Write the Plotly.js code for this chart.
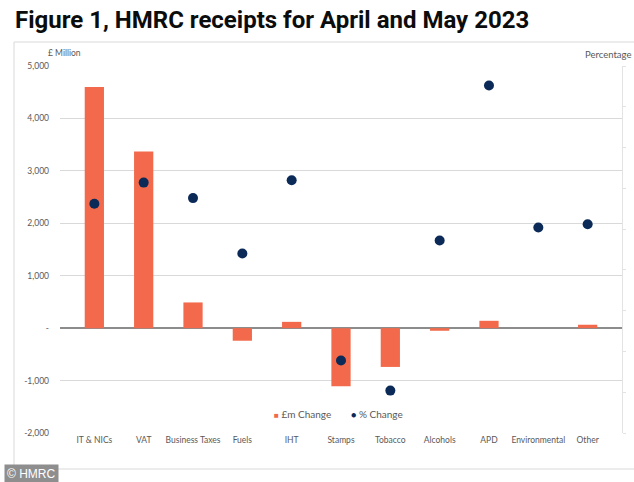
<!DOCTYPE html>
<html>
<head>
<meta charset="utf-8">
<script src="https://cdn.plot.ly/plotly-3.0.1.min.js"></script>
<style>
html,body{margin:0;padding:0;background:#fff;overflow:hidden;}
#chart{width:634px;height:482px;}
</style>
</head>
<body>
<div id="chart"></div>
<script>
// Data
var categories = ["IT & NICs", "VAT", "Business Taxes", "Fuels", "IHT", "Stamps", "Tobacco", "Alcohols", "APD", "Environmental", "Other"];
var changeMillion = [4600, 3370, 490, -240, 120, -1110, -740, -50, 140, 0, 65];
var changePercent = [8.1, 10.7, 8.8, 2.0, 11.0, -11.1, -14.8, 3.6, 22.6, 5.2, 5.6];
var leftTickVals = [-2000, -1000, 0, 1000, 2000, 3000, 4000, 5000];
var leftTickText = ["-2,000", "-1,000", "-", "1,000", "2,000", "3,000", "4,000", "5,000"];
var seriesNames = ["£m Change", "% Change"];

var W = 634, H = 482;
var L = 60, R = 12, T = 66, B = 49;
var pw = W - L - R, ph = H - T - B;
function px(x) { return (x - L) / pw; }
function py(y) { return (H - B - y) / ph; }

var barColor = "#F26A4B", dotColor = "#0B2A57";
var labelFont = {family: "Lato, 'Open Sans', sans-serif", size: 8.5, color: "#595959"};
var legendFont = {family: "Lato, 'Open Sans', sans-serif", size: 10, color: "#595959"};
var frameColor = "#d9d9d9";

var traces = [
  {
    type: "bar",
    name: seriesNames[0],
    x: categories,
    y: changeMillion,
    marker: {color: barColor},
    yaxis: "y",
    showlegend: false
  },
  {
    type: "scatter",
    mode: "markers",
    name: seriesNames[1],
    x: categories,
    y: changePercent,
    marker: {color: dotColor, size: 10},
    yaxis: "y2",
    showlegend: false
  }
];

var layout = {
  width: W, height: H,
  margin: {l: L, r: R, t: T, b: B, pad: 0},
  paper_bgcolor: "#ffffff",
  plot_bgcolor: "#ffffff",
  showlegend: false,
  bargap: 0.61,
  title: {
    text: "<b>Figure 1, HMRC receipts for April and May 2023</b>",
    font: {family: "Roboto, 'Noto Sans', sans-serif", size: 24, color: "#0b0c0c"},
    x: 15 / W, xanchor: "left", xref: "container",
    y: 1 - 20 / H, yanchor: "middle", yref: "container"
  },
  xaxis: {
    type: "category",
    showgrid: false, showline: false, zeroline: false,
    ticks: "", tickfont: labelFont,
    fixedrange: true
  },
  yaxis: {
    range: [-2000, 5000],
    tickvals: leftTickVals,
    ticktext: leftTickText,
    tickfont: labelFont,
    showgrid: true, gridcolor: "#d9d9d9", gridwidth: 1,
    zeroline: true, zerolinecolor: "#8c8c8c", zerolinewidth: 1.5,
    showline: false, ticks: "", ticklabelstandoff: 10,
    fixedrange: true
  },
  yaxis2: {
    overlaying: "y", side: "right",
    range: [-20, 25], dtick: 5,
    showgrid: false, zeroline: false,
    showline: true, linecolor: "#e3e3e3", linewidth: 1,
    ticks: "outside", ticklen: 3, tickcolor: "#e3e3e3",
    showticklabels: false,
    fixedrange: true
  },
  shapes: [
    {type: "line", xref: "paper", yref: "paper", x0: px(14), x1: px(640), y0: py(42), y1: py(42), line: {color: frameColor, width: 1}},
    {type: "line", xref: "paper", yref: "paper", x0: px(14), x1: px(640), y0: py(469), y1: py(469), line: {color: frameColor, width: 1}},
    {type: "line", xref: "paper", yref: "paper", x0: px(14), x1: px(14), y0: py(42), y1: py(469), line: {color: frameColor, width: 1}}
  ],
  annotations: [
    {text: "£ Million", xref: "paper", yref: "paper", x: px(46), y: py(53), xanchor: "left", yanchor: "middle", showarrow: false, font: labelFont},
    {text: "Percentage", xref: "paper", yref: "paper", x: px(633), y: py(55), xanchor: "right", yanchor: "middle", showarrow: false,
     font: {family: labelFont.family, size: 9.5, color: "#595959"}},
    {text: "<span style='color:" + barColor + ";font-size:8px'>■</span> " + seriesNames[0], xref: "paper", yref: "paper",
     x: px(272), y: py(414), xanchor: "left", yanchor: "middle", showarrow: false, font: legendFont},
    {text: "<span style='color:" + dotColor + ";font-size:9px'>●</span> " + seriesNames[1], xref: "paper", yref: "paper",
     x: px(349), y: py(414), xanchor: "left", yanchor: "middle", showarrow: false, font: legendFont},
    {text: "© HMRC", xref: "paper", yref: "paper", x: px(4), y: py(474), xanchor: "left", yanchor: "middle", showarrow: false,
     font: {family: "'Liberation Sans', Arial, sans-serif", size: 12, color: "#ffffff"}, bgcolor: "#8e8e8e", borderpad: 2}
  ]
};

Plotly.newPlot("chart", traces, layout, {displayModeBar: false, staticPlot: true});
</script>
</body>
</html>
